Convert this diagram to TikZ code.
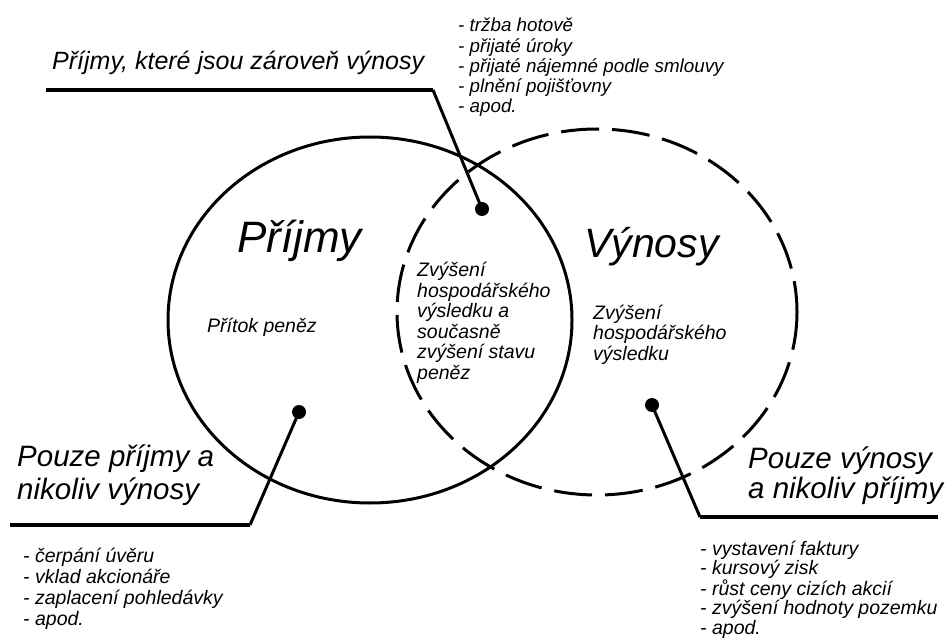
\documentclass[tikz,border=0pt]{standalone}
\usepackage{fontspec}
\setmainfont{Liberation Sans}

\begin{document}
\begin{tikzpicture}[x = 1pt, y = -1pt,
    set/.style = {line width = 3pt},
    dashedset/.style = {set, dash pattern = on 38pt off 13pt},
    pin/.style = {circle, fill, inner sep = 0pt, minimum size = 14pt},
    leader/.style = {line width = 3pt},
    shelf/.style = {line width = 4.5pt},
    big/.style = {font = \itshape\fontsize{44}{48}\selectfont},
    head/.style = {font = \itshape\fontsize{29.5}{31.5}\selectfont},
    title/.style = {font = \itshape\fontsize{25}{28}\selectfont},
    small/.style = {font = \itshape\fontsize{19.5}{20.5}\selectfont},
    txt/.style = {anchor = base west, inner sep = 0pt, align = left}]
    \useasboundingbox (0,0) rectangle (945,639);

    % the two sets
    \draw[set] (370,320) ellipse [x radius = 202, y radius = 183];
    \draw[dashedset] (597,312) ellipse [x radius = 200, y radius = 183];

    % base anchor of a multi-line node = baseline of its last line
    \node[txt, big] (prijmy) at (237,252) {Příjmy};
    \node[txt, big, font = \itshape\fontsize{41}{45}\selectfont] (vynosy) at (584,257) {Výnosy};
    \node[txt, small] (pritok) at (207,332) {Přítok peněz};
    \node[txt, small] (prunik) at (417,379)
      {Zvýšení\\hospodářského\\výsledku a\\současně\\zvýšení stavu\\peněz};
    \node[txt, small] (vysledek) at (593,360)
      {Zvýšení\\hospodářského\\výsledku};

    % dots and their leaders
    \node[pin] (obe) at (482,209) {};
    \node[pin] (jenp) at (299,412) {};
    \node[pin] (jenv) at (652,405) {};

    \coordinate (obeknee) at (433,90);
    \coordinate (obeend) at (46,90);
    \coordinate (jenpknee) at (250,525);
    \coordinate (jenpend) at (10,525);
    \coordinate (jenvknee) at (700,517);
    \coordinate (jenvend) at (938,517);

    \draw[leader] (obe.center) -- (obeknee);
    \draw[shelf] (obeknee) -- (obeend);
    \draw[leader] (jenp.center) -- (jenpknee);
    \draw[shelf] (jenpknee) -- (jenpend);
    \draw[leader] (jenv.center) -- (jenvknee);
    \draw[shelf] (jenvknee) -- (jenvend);

    % labels on the shelves
    \node[txt, title] (obelabel) at (52,70) {Příjmy, které jsou zároveň výnosy};
    \node[txt, head, font = \itshape\fontsize{29.5}{33}\selectfont] (jenplabel) at (17,499)
      {Pouze příjmy a\\nikoliv výnosy};
    \node[txt, head, font = \itshape\fontsize{29.5}{30}\selectfont] (jenvlabel) at (748,498)
      {Pouze výnosy\\a nikoliv příjmy};

    % examples
    \node[txt, small, font = \itshape\fontsize{18.8}{20.25}\selectfont] (obelist) at (458,113)
      {- tržba hotově\\- přijaté úroky\\- přijaté nájemné podle smlouvy\\- plnění pojišťovny\\- apod.};
    \node[txt, small, font = \itshape\fontsize{19.5}{21}\selectfont] (jenplist) at (23,625)
      {- čerpání úvěru\\- vklad akcionáře\\- zaplacení pohledávky\\- apod.};
    \node[txt, small, font = \itshape\fontsize{19.5}{19.3}\selectfont] (jenvlist) at (700,634)
      {- vystavení faktury\\- kursový zisk\\- růst ceny cizích akcií\\- zvýšení hodnoty pozemku\\- apod.};
\end{tikzpicture}
\end{document}
